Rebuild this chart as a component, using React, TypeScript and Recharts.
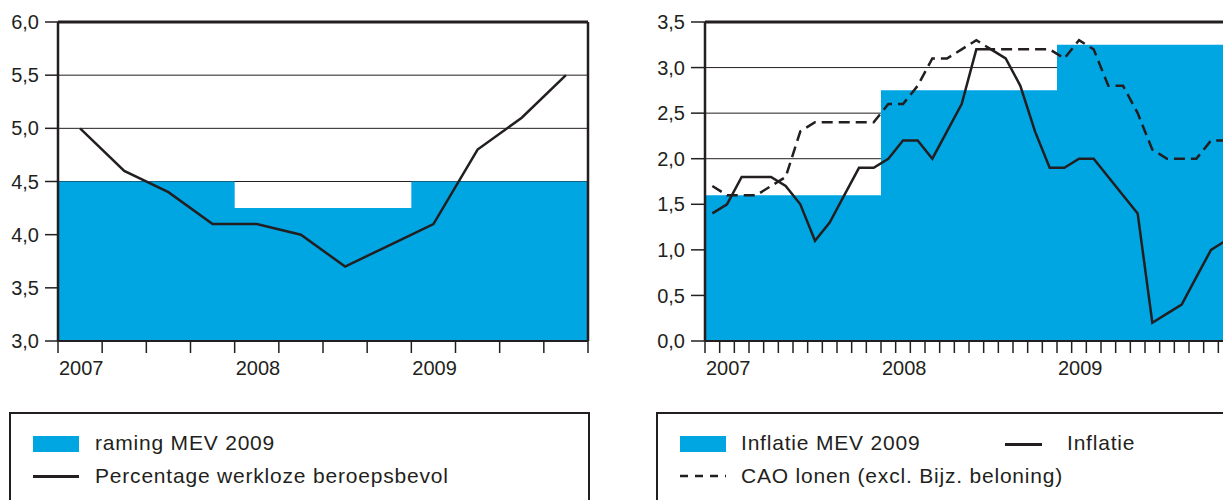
import React from 'react';
import { ComposedChart, Area, Line, XAxis, YAxis, CartesianGrid, ReferenceLine } from 'recharts';

// jaren (labels onder de x-as)
const years = ['2007', '2008', '2009'];

// links: werkloosheid per kwartaal (%)
const werkloosheid = [5.0, 4.6, 4.4, 4.1, 4.1, 4.0, 3.7, 3.9, 4.1, 4.8, 5.1, 5.5];
// raming MEV 2009 per jaar
const ramingMev = [4.5, 4.25, 4.5];

// rechts: inflatie en CAO lonen per maand (%)
const inflatie = [
  1.4, 1.5, 1.8, 1.8, 1.8, 1.7, 1.5, 1.1, 1.3, 1.6, 1.9, 1.9,
  2.0, 2.2, 2.2, 2.0, 2.3, 2.6, 3.2, 3.2, 3.1, 2.8, 2.3, 1.9,
  1.9, 2.0, 2.0, 1.8, 1.6, 1.4, 0.2, 0.3, 0.4, 0.7, 1.0, 1.1,
];
const caoLonen = [
  1.7, 1.6, 1.6, 1.6, 1.7, 1.8, 2.3, 2.4, 2.4, 2.4, 2.4, 2.4,
  2.6, 2.6, 2.8, 3.1, 3.1, 3.2, 3.3, 3.2, 3.2, 3.2, 3.2, 3.2,
  3.1, 3.3, 3.2, 2.8, 2.8, 2.5, 2.1, 2.0, 2.0, 2.0, 2.2, 2.2,
];
// inflatie MEV 2009 per jaar
const inflatieMev = [1.6, 2.75, 3.25];

const leftTicksY = [3, 3.5, 4, 4.5, 5, 5.5, 6];
const rightTicksY = [0, 0.5, 1, 1.5, 2, 2.5, 3, 3.5];

const INK = '#231f20';
const BLUE = '#00a6e2';
const FONT = '"Liberation Sans", Arial, sans-serif';

// step-rijen op jaargrenzen + punten midden in elke periode
function buildRows(perYear: number, yearly: number[], series: Record<string, number[]>) {
  const rows: any[] = [];
  yearly.forEach((v, i) => rows.push({ x: i * perYear, step: v }));
  rows.push({ x: yearly.length * perYear, step: yearly[yearly.length - 1] });
  const n = yearly.length * perYear;
  for (let i = 0; i < n; i++) {
    const row: any = { x: i + 0.5 };
    Object.keys(series).forEach((k) => (row[k] = series[k][i]));
    rows.push(row);
  }
  return rows.sort((a, b) => a.x - b.x);
}

const leftData = buildRows(4, ramingMev, { werkloos: werkloosheid });
const rightData = buildRows(12, inflatieMev, { inflatie, cao: caoLonen });

const fmt = (v: number) => v.toFixed(1).replace('.', ',');

const makeYearTick = (perYear: number) => (props: any) => {
  const { x, y, payload } = props;
  const v = payload.value;
  if (v % perYear !== 0 || v / perYear >= years.length) return <g />;
  return (
    <text x={x + 1} y={y} dy={20} textAnchor="start" fontSize={20} fill={INK} fontFamily={FONT}>
      {years[v / perYear]}
    </text>
  );
};

const yTick = { fontSize: 20, fill: INK, fontFamily: FONT };

const legendText: React.CSSProperties = {
  position: 'absolute',
  fontFamily: FONT,
  fontSize: 21,
  letterSpacing: 0.8,
  color: INK,
  lineHeight: '24px',
  whiteSpace: 'nowrap',
};

export default function App() {
  const leftTicksX = Array.from({ length: 13 }, (_, i) => i);
  const rightTicksX = Array.from({ length: 37 }, (_, i) => i);

  return (
    <div style={{ position: 'absolute', left: 0, top: 0, width: 1223, height: 500, overflow: 'hidden', background: '#fff' }}>
      {/* werkloosheid */}
      <div style={{ position: 'absolute', left: 0, top: 0 }}>
        <ComposedChart width={600} height={381} data={leftData} margin={{ top: 22, right: 12, bottom: 0, left: 0 }}>
          <CartesianGrid vertical={false} stroke={INK} strokeWidth={1} />
          <XAxis
            dataKey="x"
            type="number"
            domain={[0, 12]}
            ticks={leftTicksX}
            interval={0}
            height={40}
            tickSize={12}
            tickMargin={2}
            axisLine={{ stroke: INK, strokeWidth: 2 }}
            tickLine={{ stroke: INK, strokeWidth: 1.5 }}
            tick={makeYearTick(4)}
          />
          <YAxis
            type="number"
            domain={[3, 6]}
            ticks={leftTicksY}
            interval={0}
            width={58}
            tickSize={13}
            tickMargin={6}
            tickFormatter={fmt}
            axisLine={{ stroke: INK, strokeWidth: 2.5 }}
            tickLine={{ stroke: INK, strokeWidth: 1.5 }}
            tick={yTick}
          />
          <Area
            dataKey="step"
            type="stepAfter"
            fill={BLUE}
            fillOpacity={1}
            stroke="none"
            connectNulls
            baseValue={3}
            isAnimationActive={false}
          />
          <Line
            dataKey="werkloos"
            type="linear"
            stroke={INK}
            strokeWidth={2.5}
            dot={false}
            connectNulls
            isAnimationActive={false}
          />
          <ReferenceLine y={6} stroke={INK} strokeWidth={3} />
          <ReferenceLine x={12} stroke={INK} strokeWidth={2.5} />
        </ComposedChart>
      </div>

      {/* inflatie */}
      <div style={{ position: 'absolute', left: 625, top: 0 }}>
        <ComposedChart width={618} height={381} data={rightData} margin={{ top: 22, right: 10, bottom: 0, left: 0 }}>
          <CartesianGrid vertical={false} stroke={INK} strokeWidth={1} />
          <XAxis
            dataKey="x"
            type="number"
            domain={[0, 36]}
            ticks={rightTicksX}
            interval={0}
            height={40}
            tickSize={12}
            tickMargin={2}
            axisLine={{ stroke: INK, strokeWidth: 2 }}
            tickLine={{ stroke: INK, strokeWidth: 1.5 }}
            tick={makeYearTick(12)}
          />
          <YAxis
            type="number"
            domain={[0, 3.5]}
            ticks={rightTicksY}
            interval={0}
            width={80}
            tickSize={14}
            tickMargin={6}
            tickFormatter={fmt}
            axisLine={{ stroke: INK, strokeWidth: 2.5 }}
            tickLine={{ stroke: INK, strokeWidth: 1.5 }}
            tick={yTick}
          />
          <Area
            dataKey="step"
            type="stepAfter"
            fill={BLUE}
            fillOpacity={1}
            stroke="none"
            connectNulls
            baseValue={0}
            isAnimationActive={false}
          />
          <Line
            dataKey="cao"
            type="linear"
            stroke={INK}
            strokeWidth={2.5}
            strokeDasharray="11 6"
            dot={false}
            connectNulls
            isAnimationActive={false}
          />
          <Line
            dataKey="inflatie"
            type="linear"
            stroke={INK}
            strokeWidth={2.5}
            dot={false}
            connectNulls
            isAnimationActive={false}
          />
          <ReferenceLine y={3.5} stroke={INK} strokeWidth={3} />
        </ComposedChart>
      </div>

      {/* legenda links */}
      <div style={{ position: 'absolute', left: 9, top: 412, width: 581, height: 120, border: `2.5px solid ${INK}`, boxSizing: 'border-box' }} />
      <div style={{ position: 'absolute', left: 33, top: 436, width: 46, height: 16, background: BLUE }} />
      <div style={{ ...legendText, left: 95, top: 431 }}>raming MEV 2009</div>
      <div style={{ position: 'absolute', left: 33, top: 475, width: 46, height: 2.5, background: INK }} />
      <div style={{ ...legendText, left: 95, top: 464 }}>Percentage werkloze beroepsbevol</div>

      {/* legenda rechts */}
      <div style={{ position: 'absolute', left: 656, top: 412, width: 620, height: 120, border: `2.5px solid ${INK}`, boxSizing: 'border-box' }} />
      <div style={{ position: 'absolute', left: 680, top: 436, width: 46, height: 16, background: BLUE }} />
      <div style={{ ...legendText, left: 741, top: 431 }}>Inflatie MEV 2009</div>
      <div style={{ position: 'absolute', left: 1005, top: 443, width: 37, height: 2.5, background: INK }} />
      <div style={{ ...legendText, left: 1067, top: 431 }}>Inflatie</div>
      <svg style={{ position: 'absolute', left: 680, top: 470 }} width={46} height={12}>
        <line x1={0} y1={6} x2={46} y2={6} stroke={INK} strokeWidth={2.5} strokeDasharray="8 7" />
      </svg>
      <div style={{ ...legendText, left: 741, top: 464 }}>CAO lonen (excl. Bijz. beloning)</div>
    </div>
  );
}
